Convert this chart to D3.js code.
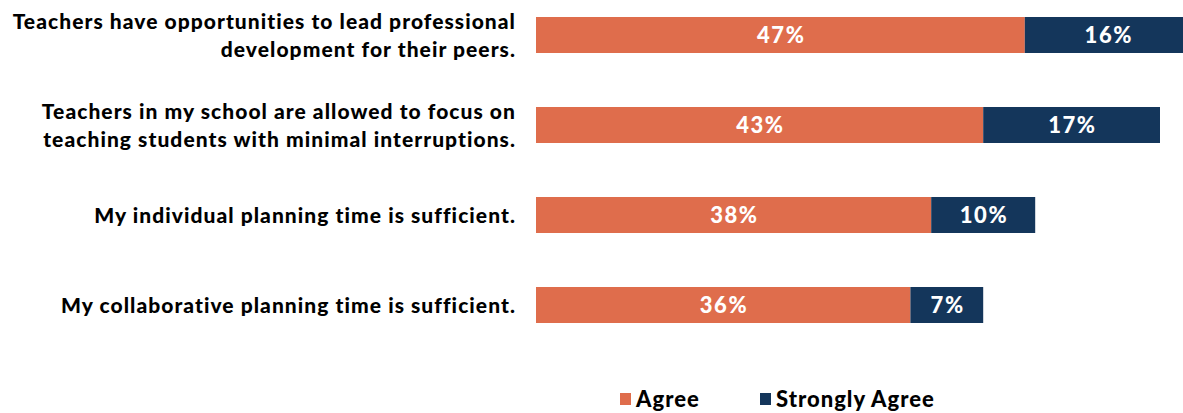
<!DOCTYPE html>
<html>
<head>
<meta charset="utf-8">
<script src="https://cdn.jsdelivr.net/npm/d3@7"></script>
<style>
  body { margin: 0; background: #fff; overflow: hidden; }
  text { font-family: Lato, "Open Sans", sans-serif; font-weight: 900; }
</style>
</head>
<body>
<svg id="chart" width="1183" height="413"></svg>
<script>
// statement labels (already broken into lines as in the original)
let statements = [
    ["Teachers have opportunities to lead professional", "development for their peers."],
    ["Teachers in my school are allowed to focus on", "teaching students with minimal interruptions."],
    ["My individual planning time is sufficient."],
    ["My collaborative planning time is sufficient."]
];
let agree = [47, 43, 38, 36];
let stronglyAgree = [16, 17, 10, 7];
let seriesNames = ["Agree", "Strongly Agree"];
let colors = ["#DF6D4C", "#14365B"];

const svg = d3.select("#chart");

let x = d3.scaleLinear()
    .domain([0, 100])
    .range([536, 1576]);

let y = d3.scaleBand()
    .domain(d3.range(statements.length))
    .range([-10, 350])
    .paddingInner(0.6)
    .paddingOuter(0.3);

// build stacked rows
let rows = statements.map((s, i) => ({i: i, Agree: agree[i], "Strongly Agree": stronglyAgree[i]}));
let stacked = d3.stack().keys(seriesNames)(rows);

let layers = svg.selectAll(".layer")
    .data(stacked)
    .enter()
    .append("g")
    .attr("class", "layer")
    .attr("fill", (d, k) => colors[k]);

layers.selectAll("rect")
    .data(d => d)
    .enter()
    .append("rect")
    .attr("x", d => x(d[0]))
    .attr("y", d => y(d.data.i))
    .attr("width", d => x(d[1]) - x(d[0]))
    .attr("height", y.bandwidth());

// value labels inside the bars
layers.selectAll("text")
    .data(d => d)
    .enter()
    .append("text")
    .attr("x", d => (x(d[0]) + x(d[1])) / 2 + 0.8)
    .attr("y", d => y(d.data.i) + y.bandwidth() / 2)
    .attr("dy", "0.36em")
    .attr("text-anchor", "middle")
    .attr("fill", "#fff")
    .style("font-size", "22px")
    .style("letter-spacing", "1.6px")
    .text(d => (d[1] - d[0]) + "%");

// category labels on the left
let lineGap = 28;
svg.selectAll(".cat")
    .data(statements)
    .enter()
    .append("text")
    .attr("class", "cat")
    .attr("text-anchor", "end")
    .attr("fill", "#000")
    .style("font-size", "21px")
    .style("letter-spacing", "1.05px")
    .each(function (lines, i) {
        let cy = y(i) + y.bandwidth() / 2;
        let top = cy - (lines.length - 1) * lineGap / 2;
        d3.select(this).selectAll("tspan")
            .data(lines)
            .enter()
            .append("tspan")
            .attr("x", 516)
            .attr("y", (l, j) => top + j * lineGap)
            .attr("dy", "0.36em")
            .text(l => l);
    });

// legend
let legendX = [620, 760];
let legend = svg.selectAll(".legend")
    .data(seriesNames)
    .enter()
    .append("g")
    .attr("class", "legend")
    .attr("transform", (d, k) => "translate(" + legendX[k] + ",393)");

legend.append("rect")
    .attr("width", 11)
    .attr("height", 12)
    .attr("fill", (d, k) => colors[k]);

legend.append("text")
    .attr("x", 16)
    .attr("y", 6)
    .attr("dy", "0.36em")
    .attr("fill", "#000")
    .style("font-size", "22px")
    .style("letter-spacing", "1px")
    .text(d => d);
</script>
</body>
</html>
